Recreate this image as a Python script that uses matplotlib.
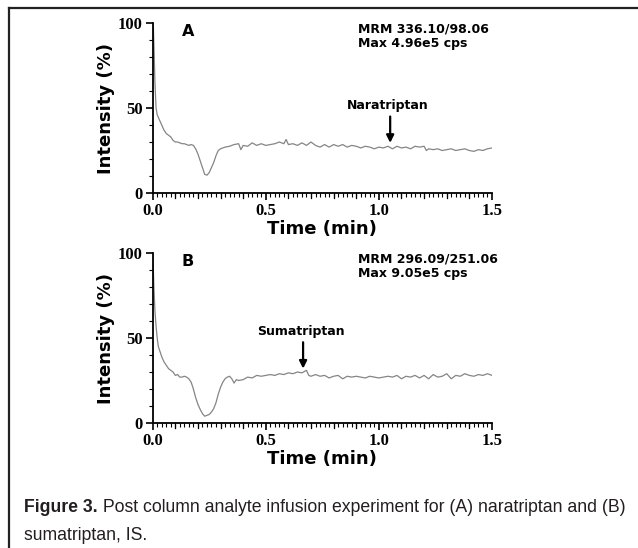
import numpy as np
import matplotlib
matplotlib.use("Agg")
from matplotlib import pyplot as plt
from matplotlib.ticker import MultipleLocator

# panel A: naratriptan, MRM 336.10/98.06
time_a = [0.000, 0.003, 0.006, 0.010, 0.015, 0.020, 0.030, 0.040, 0.050, 0.060,
          0.070, 0.080, 0.090, 0.100, 0.110, 0.120, 0.130, 0.140, 0.150, 0.160,
          0.170, 0.180, 0.190, 0.200, 0.210, 0.220, 0.230, 0.240, 0.250, 0.260,
          0.270, 0.280, 0.290, 0.300, 0.310, 0.320, 0.340, 0.360, 0.380, 0.390,
          0.400, 0.420, 0.440, 0.460, 0.480, 0.500, 0.520, 0.540, 0.560, 0.580,
          0.590, 0.600, 0.620, 0.640, 0.660, 0.680, 0.700, 0.720, 0.740, 0.760,
          0.780, 0.800, 0.820, 0.840, 0.860, 0.880, 0.900, 0.920, 0.940, 0.960,
          0.980, 1.000, 1.020, 1.040, 1.060, 1.080, 1.100, 1.120, 1.140, 1.160,
          1.180, 1.200, 1.210, 1.220, 1.240, 1.260, 1.280, 1.300, 1.320, 1.340,
          1.360, 1.380, 1.400, 1.420, 1.440, 1.460, 1.480, 1.500]
int_a = [100, 98, 85, 65, 50, 46, 43, 40, 37, 35,
         34, 33, 31, 30, 30, 29.5, 29, 29, 28.5, 28,
         28.5, 28, 26, 23, 19, 15, 11, 10.5, 12, 15,
         18, 22, 25, 26, 26.5, 27, 27.5, 28.5, 29, 25.5,
         28, 27.5, 29.5, 28, 29, 28, 28.5, 29, 30, 29,
         31.5, 28.5, 29, 28, 29.5, 28, 30, 28, 27, 28.5,
         27, 28.5, 27.5, 28.5, 27, 28, 27.5, 26.5, 27.5, 27,
         26, 27, 26.5, 27.5, 26, 27.5, 26.5, 27, 26, 27.5,
         27, 27.5, 25, 26, 25.5, 26, 25, 25.5, 26, 25,
         25.5, 26, 25, 24.5, 25.5, 25, 26, 26.5]

# panel B: sumatriptan, MRM 296.09/251.06
time_b = [0.000, 0.003, 0.006, 0.010, 0.015, 0.020, 0.025, 0.030, 0.040, 0.050,
          0.060, 0.070, 0.080, 0.090, 0.100, 0.110, 0.120, 0.130, 0.140, 0.150,
          0.160, 0.170, 0.180, 0.190, 0.200, 0.210, 0.220, 0.230, 0.240, 0.250,
          0.260, 0.270, 0.280, 0.290, 0.300, 0.310, 0.320, 0.330, 0.340, 0.350,
          0.360, 0.370, 0.380, 0.400, 0.420, 0.440, 0.460, 0.480, 0.500, 0.520,
          0.540, 0.560, 0.580, 0.600, 0.620, 0.640, 0.660, 0.680, 0.690, 0.700,
          0.720, 0.740, 0.760, 0.780, 0.800, 0.820, 0.840, 0.860, 0.880, 0.900,
          0.920, 0.940, 0.960, 0.980, 1.000, 1.020, 1.040, 1.060, 1.080, 1.100,
          1.120, 1.140, 1.160, 1.180, 1.200, 1.220, 1.240, 1.260, 1.280, 1.300,
          1.320, 1.340, 1.360, 1.380, 1.400, 1.420, 1.440, 1.460, 1.480, 1.500]
int_b = [99, 90, 78, 66, 57, 50, 45, 43, 39, 36,
         34, 32, 31, 30, 28, 28.5, 27, 27, 27.5, 27,
         26, 24, 20, 15, 11, 8, 5.5, 4, 4.5, 5,
         6.5, 8.5, 12, 17, 21, 24, 26, 27, 27.5, 26,
         23.5, 25.5, 25, 25.5, 27, 26.5, 28, 27.5, 28, 28.5,
         28, 29, 28.5, 29.5, 29, 30, 29.5, 31, 28, 27.5,
         28.5, 27.5, 28, 26.5, 27.5, 28, 26, 27.5, 27, 27.5,
         27, 26.5, 27.5, 27, 26.5, 27, 27.5, 27, 28, 26,
         27.5, 27, 28, 26.5, 28, 26, 28.5, 27, 27.5, 29,
         26, 28, 27.5, 29, 28, 27.5, 28.5, 28, 29, 28]

panels = [
    dict(t=time_a, y=int_a, letter="A", mrm="MRM 336.10/98.06",
         mx="Max 4.96e5 cps", name="Naratriptan", peak=1.05,
         arrow=(29.5, 45), rect=[0.2393, 0.6478, 0.5318, 0.3102]),
    dict(t=time_b, y=int_b, letter="B", mrm="MRM 296.09/251.06",
         mx="Max 9.05e5 cps", name="Sumatriptan", peak=0.665,
         arrow=(32, 47.5), rect=[0.2393, 0.2281, 0.5318, 0.3102]),
]

fig = plt.figure(figsize=(6.38, 5.48), dpi=100)
bold_sans = dict(family="DejaVu Sans", weight="bold")
tick_font = dict(family="Liberation Serif", weight="bold", size=12)

for p in panels:
    ax = fig.add_axes(p["rect"])
    ax.plot(p["t"], p["y"], color="#858585", lw=0.9)
    ax.set_xlim(0, 1.5)
    ax.set_ylim(0, 100)
    for s in ("top", "right"):
        ax.spines[s].set_visible(False)
    for s in ("left", "bottom"):
        ax.spines[s].set_linewidth(1.3)
    ax.set_xticks([0, 0.5, 1.0, 1.5])
    ax.set_xticklabels(["0.0", "0.5", "1.0", "1.5"], fontdict=tick_font)
    ax.set_yticks([0, 50, 100])
    ax.set_yticklabels(["0", "50", "100"], fontdict=tick_font)
    ax.xaxis.set_minor_locator(MultipleLocator(0.02))
    ax.yaxis.set_minor_locator(MultipleLocator(10))
    ax.tick_params(which="major", length=5, width=1.2, pad=2)
    ax.tick_params(axis="x", which="minor", length=3, width=0.8)
    ax.tick_params(axis="y", which="minor", length=3, width=0.8)
    # slightly longer marks every 0.1 min
    for xv in [0.1, 0.2, 0.3, 0.4, 0.6, 0.7, 0.8, 0.9, 1.1, 1.2, 1.3, 1.4]:
        ax.plot([xv, xv], [0, -2.8], color="black", lw=0.9, clip_on=False)
    ax.set_xlabel("Time (min)", fontsize=13, labelpad=1, **bold_sans)
    ax.set_ylabel("Intensity (%)", fontsize=13, labelpad=2, **bold_sans)
    ax.text(0.103, 0.95, p["letter"], transform=ax.transAxes, fontsize=11.5,
            ha="center", va="center", **bold_sans)
    ax.text(0.605, 0.92, p["mrm"] + "\n" + p["mx"], transform=ax.transAxes,
            fontsize=9, ha="left", va="center", linespacing=1.15, **bold_sans)
    ax.annotate("", xy=(p["peak"], p["arrow"][0]), xytext=(p["peak"], p["arrow"][1]),
                arrowprops=dict(arrowstyle="-|>", color="black", lw=1.6,
                                mutation_scale=11, shrinkA=0, shrinkB=0))
    ax.text(p["peak"] - 0.01, p["arrow"][1] + 2.5, p["name"], fontsize=9,
            ha="center", va="bottom", **bold_sans)

# frame lines of the figure box
fig.add_artist(plt.Line2D([9 / 638, 1.0], [1 - 8 / 548, 1 - 8 / 548],
                          color="#222222", lw=1.6))
fig.add_artist(plt.Line2D([9 / 638, 9 / 638], [0, 1 - 8 / 548],
                          color="#222222", lw=1.6))

cap_font = ["Liberation Sans", "DejaVu Sans"]
cap_size = 12.7
t1 = fig.text(24 / 638, 1 - 508 / 548, "Figure 3.", family=cap_font,
              weight="bold", fontsize=cap_size, color="#231f20", va="center")
fig.text(24 / 638, 1 - 535 / 548, "sumatriptan, IS.", family=cap_font,
         fontsize=cap_size, color="#231f20", va="center")
ax.annotate(" Post column analyte infusion experiment for (A) naratriptan and (B)",
            xy=(1, 0.5), xycoords=t1, va="center", ha="left", family=cap_font,
            fontsize=cap_size, color="#231f20", annotation_clip=False)

fig.savefig("out.png", dpi=100)
